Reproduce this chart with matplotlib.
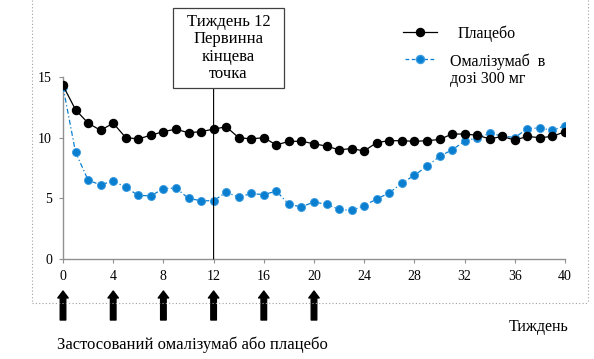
import matplotlib
matplotlib.use("Agg")
import matplotlib.pyplot as plt
from matplotlib.lines import Line2D
from matplotlib.patches import Rectangle

plt.rcParams['font.family'] = ['Liberation Serif', 'DejaVu Serif']

weeks = list(range(0, 41))
placebo = [14.3, 12.3, 11.2, 10.6, 11.2, 10.0, 9.9, 10.2, 10.5, 10.7,
           10.4, 10.5, 10.7, 10.9, 10.0, 9.9, 10.0, 9.4, 9.7, 9.7,
           9.5, 9.3, 9.0, 9.1, 8.9, 9.6, 9.75, 9.75, 9.7, 9.75,
           9.85, 10.3, 10.3, 10.2, 9.9, 10.1, 9.8, 10.1, 10.0, 10.1, 10.5]
omalizumab = [14.2, 8.8, 6.5, 6.1, 6.45, 5.9, 5.25, 5.2, 5.8, 5.85,
              5.0, 4.8, 4.8, 5.5, 5.1, 5.4, 5.3, 5.6, 4.5, 4.3,
              4.7, 4.5, 4.1, 4.0, 4.4, 4.95, 5.45, 6.25, 6.9, 7.65,
              8.45, 9.0, 9.7, 10.0, 10.35, 10.15, 10.0, 10.75, 10.8, 10.6, 11.0]
x_ticks = [0, 4, 8, 12, 16, 20, 24, 28, 32, 36, 40]
y_ticks = [0, 5, 10, 15]
dose_weeks = [0, 4, 8, 12, 16, 20]

W, H = 594, 359


def fx(px):
    return px / W


def fy(py):
    return 1 - py / H


fig = plt.figure(figsize=(W / 100, H / 100), dpi=100)
ax = fig.add_axes([fx(63), fy(259), 502 / W, (259 - 77) / H])

blue = "#0a7fd0"
blue_edge = "#3a9ae0"
ms = 5.8
ax.plot(weeks, omalizumab, color=blue, lw=0.9, linestyle=(0, (4, 2, 1, 2)),
        marker='o', markersize=ms, markerfacecolor=blue,
        markeredgecolor=blue_edge, markeredgewidth=0.6, zorder=3)
ax.plot(weeks, placebo, color="black", lw=0.9, marker='o', markersize=ms,
        markerfacecolor="black", markeredgecolor="black", zorder=4)

ax.set_xlim(0, 40)
ax.set_ylim(0, 15)
ax.set_xticks(x_ticks)
ax.set_yticks(y_ticks)
for s in ['top', 'right']:
    ax.spines[s].set_visible(False)
for s in ['left', 'bottom']:
    ax.spines[s].set_color("#909090")
    ax.spines[s].set_linewidth(1.0)
ax.tick_params(axis='both', which='major', direction='out', length=3,
               color="#909090", labelsize=10, pad=5)

# vertical line at week 12 up to the box
ax.annotate("", xy=(12, 0), xycoords='data',
            xytext=(12, fy(88)), textcoords=('data', 'figure fraction'),
            arrowprops=dict(arrowstyle='-', color='black', lw=0.8,
                            shrinkA=0, shrinkB=0))
fig.add_artist(Rectangle((fx(173), fy(88)), (284 - 173) / W, (88 - 8) / H,
                         facecolor='white', edgecolor='#404040', lw=0.9,
                         transform=fig.transFigure, zorder=5))
fig.text(fx(228.5), fy(48), "Тиждень 12\nПервинна\nкінцева\nточка",
         ha='center', va='center', fontsize=12, linespacing=1.12, zorder=6)

# legend
fig.add_artist(Line2D([fx(403), fx(437)], [fy(32), fy(32)], color='black',
                      lw=0.9))
fig.add_artist(Line2D([fx(420)], [fy(32)], color='black', marker='o',
                      markersize=ms))
fig.add_artist(Line2D([fx(405), fx(435)], [fy(59), fy(59)], color=blue,
                      lw=0.9, linestyle=(0, (3, 2))))
fig.add_artist(Line2D([fx(420)], [fy(59)], color=blue, marker='o',
                      markersize=ms, markeredgecolor=blue_edge))
fig.text(fx(458), fy(34), "Плацебо", ha='left', va='center', fontsize=11.5)
fig.text(fx(450), fy(70), "Омалізумаб  в\nдозі 300 мг", ha='left',
         va='center', fontsize=11.5, linespacing=1.1)

# dosing arrows
for w in dose_weeks:
    ax.annotate("", xy=(w, fy(291)), xycoords=('data', 'figure fraction'),
                xytext=(w, fy(320)), textcoords=('data', 'figure fraction'),
                arrowprops=dict(arrowstyle='simple,head_length=0.5,head_width=0.75,tail_width=0.4',
                                color='black', shrinkA=0, shrinkB=0))

fig.text(fx(539), fy(327), "Тиждень", ha='center', va='center', fontsize=11.5)
fig.text(fx(57), fy(345), "Застосований омалізумаб або плацебо",
         ha='left', va='center', fontsize=12)

# dotted frame
frame_kw = dict(color='#a0a0a0', lw=0.8, linestyle=(0, (1, 2)))
fig.add_artist(Line2D([fx(32), fx(32)], [1, fy(303)], **frame_kw))
fig.add_artist(Line2D([fx(588), fx(588)], [1, fy(303)], **frame_kw))
fig.add_artist(Line2D([fx(32), fx(588)], [fy(303), fy(303)], **frame_kw))

fig.savefig("out.png", dpi=100)
